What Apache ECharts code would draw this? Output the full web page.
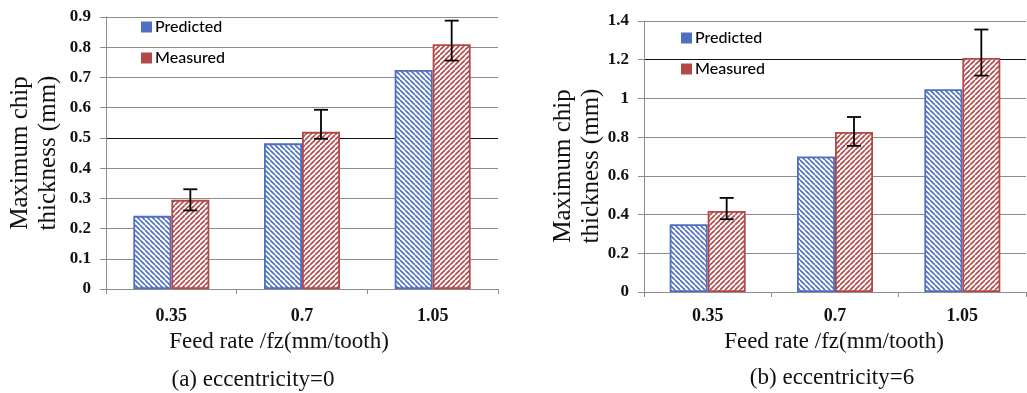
<!DOCTYPE html>
<html>
<head>
<meta charset="utf-8">
<script src="https://cdn.jsdelivr.net/npm/echarts@6/dist/echarts.min.js"></script>
<style>
html,body{margin:0;padding:0;background:#fff;}
#c{width:1027px;height:393px;}
</style>
</head>
<body>
<div id="c"></div>
<script>
// ---- data ----
const categories = ['0.35', '0.7', '1.05'];
const seriesNames = ['Predicted', 'Measured'];
// (a) eccentricity = 0
const predA = [0.242, 0.482, 0.725];
const measA = [0.295, 0.52, 0.81];
const errLowA = [0.26, 0.497, 0.756];
const errHighA = [0.33, 0.593, 0.888];
// (b) eccentricity = 6
const predB = [0.35, 0.70, 1.048];
const measB = [0.419, 0.827, 1.209];
const errLowB = [0.376, 0.755, 1.118];
const errHighB = [0.486, 0.904, 1.356];
// axis ranges
const yMaxA = 0.9, yStepA = 0.1;
const yMaxB = 1.4, yStepB = 0.2;
// texts
const yTitle = 'Maximum chip\nthickness (mm)';
const xTitle = 'Feed rate /fz(mm/tooth)';
const captionA = '(a) eccentricity=0';
const captionB = '(b) eccentricity=6';

// ---- styles ----
const BLUE = '#4f6fc0';
const RED = '#b34848';
const SERIF = "'Liberation Serif','Times New Roman',serif";
const SANS = "Lato,'Open Sans',sans-serif";

function hatch(color, dir) {
  const s = 5;
  const c = document.createElement('canvas');
  c.width = s; c.height = s;
  const ctx = c.getContext('2d');
  ctx.fillStyle = '#fff';
  ctx.fillRect(0, 0, s, s);
  ctx.strokeStyle = color;
  ctx.lineWidth = 1.6;
  ctx.beginPath();
  for (let k = -1; k <= 1; k++) {
    if (dir === 'back') { ctx.moveTo(k * s, 0); ctx.lineTo(k * s + s, s); }
    else { ctx.moveTo(k * s, s); ctx.lineTo(k * s + s, 0); }
  }
  ctx.stroke();
  return { image: c, repeat: 'repeat' };
}
const patBlue = hatch(BLUE, 'back');
const patRed = hatch(RED, 'fwd');

const BAR_W = 38;

function gridLineColors(n, darkIdx) {
  const a = [];
  for (let i = 0; i <= n; i++) a.push(i === darkIdx ? '#111' : '#8c8c8c');
  return a;
}

function makeX(gridIndex, margin) {
  return {
    type: 'category', gridIndex: gridIndex, data: categories,
    boundaryGap: true,
    axisLine: { show: true, lineStyle: { color: '#8c8c8c', width: 1 } },
    axisTick: { show: true, alignWithLabel: false, length: 5, lineStyle: { color: '#8c8c8c' } },
    axisLabel: { margin: margin, fontFamily: SERIF, fontWeight: 'bold', fontSize: 18, color: '#111' }
  };
}
function makeY(gridIndex, max, step, darkIdx) {
  return {
    type: 'value', gridIndex: gridIndex, min: 0, max: max, interval: step,
    axisLine: { show: true, lineStyle: { color: '#8c8c8c', width: 1 } },
    axisTick: { show: true, length: 6, lineStyle: { color: '#8c8c8c' } },
    axisLabel: { margin: 15, fontFamily: SERIF, fontWeight: 'bold', fontSize: 17, color: '#111' },
    splitLine: { show: true, lineStyle: { color: gridLineColors(Math.round(max / step), darkIdx), width: 1.2 } }
  };
}

function errRender(params, api) {
  const i = api.value(0);
  const lo = api.coord([i, api.value(1)]);
  const hi = api.coord([i, api.value(2)]);
  const x = lo[0] + BAR_W / 2;
  const cap = 7;
  const st = { stroke: '#000', lineWidth: 1.8 };
  return {
    type: 'group',
    children: [
      { type: 'line', shape: { x1: x, y1: hi[1], x2: x, y2: lo[1] }, style: st },
      { type: 'line', shape: { x1: x - cap, y1: hi[1], x2: x + cap, y2: hi[1] }, style: st },
      { type: 'line', shape: { x1: x - cap, y1: lo[1], x2: x + cap, y2: lo[1] }, style: st }
    ]
  };
}

function barSeries(name, data, gi, pat, border) {
  return {
    name: name, type: 'bar', xAxisIndex: gi, yAxisIndex: gi, data: data,
    barWidth: BAR_W, barGap: '0%',
    itemStyle: { color: pat, borderColor: border, borderWidth: 1.8 },
    emphasis: { disabled: true }, animation: false
  };
}
function errSeries(lo, hi, gi) {
  return {
    type: 'custom', xAxisIndex: gi, yAxisIndex: gi,
    data: categories.map((c, i) => [i, lo[i], hi[i]]),
    encode: { x: 0, y: [1, 2] },
    renderItem: errRender, z: 10, animation: false, silent: true
  };
}

function legendAt(left, top) {
  return {
    left: left, top: top, orient: 'vertical', itemWidth: 11, itemHeight: 11, itemGap: 15,
    icon: 'rect', selectedMode: false,
    textStyle: { fontFamily: SANS, fontSize: 16, fontWeight: 500, color: '#000', padding: [0, 0, 0, -2] },
    data: [
      { name: seriesNames[0], itemStyle: { color: BLUE, borderWidth: 0 } },
      { name: seriesNames[1], itemStyle: { color: RED, borderWidth: 0 } }
    ]
  };
}

function text(x, y, str, size, opts) {
  return Object.assign({
    type: 'text', x: x, y: y,
    style: { text: str, font: size + 'px ' + SERIF, fill: '#111', align: 'center', verticalAlign: 'middle', lineHeight: 28 }
  }, opts || {});
}

const chart = echarts.init(document.getElementById('c'), null, { renderer: 'canvas' });
chart.setOption({
  animation: false,
  backgroundColor: '#fff',
  grid: [
    { left: 106, right: 529, top: 17, bottom: 104 },
    { left: 644, right: 1, top: 21, bottom: 101 }
  ],
  xAxis: [makeX(0, 18), makeX(1, 15)],
  yAxis: [makeY(0, yMaxA, yStepA, 5), makeY(1, yMaxB, yStepB, 6)],
  legend: [legendAt(136, 14), legendAt(676, 25)],
  series: [
    barSeries(seriesNames[0], predA, 0, patBlue, BLUE),
    barSeries(seriesNames[1], measA, 0, patRed, RED),
    errSeries(errLowA, errHighA, 0),
    barSeries(seriesNames[0], predB, 1, patBlue, BLUE),
    barSeries(seriesNames[1], measB, 1, patRed, RED),
    errSeries(errLowB, errHighB, 1)
  ],
  graphic: [
    text(34, 153, yTitle, 25, { rotation: Math.PI / 2 }),
    text(279, 342, xTitle, 23),
    text(253, 380, captionA, 23),
    text(577, 166, yTitle, 25, { rotation: Math.PI / 2 }),
    text(834, 342, xTitle, 23),
    text(832, 378, captionB, 23)
  ]
});
</script>
</body>
</html>
